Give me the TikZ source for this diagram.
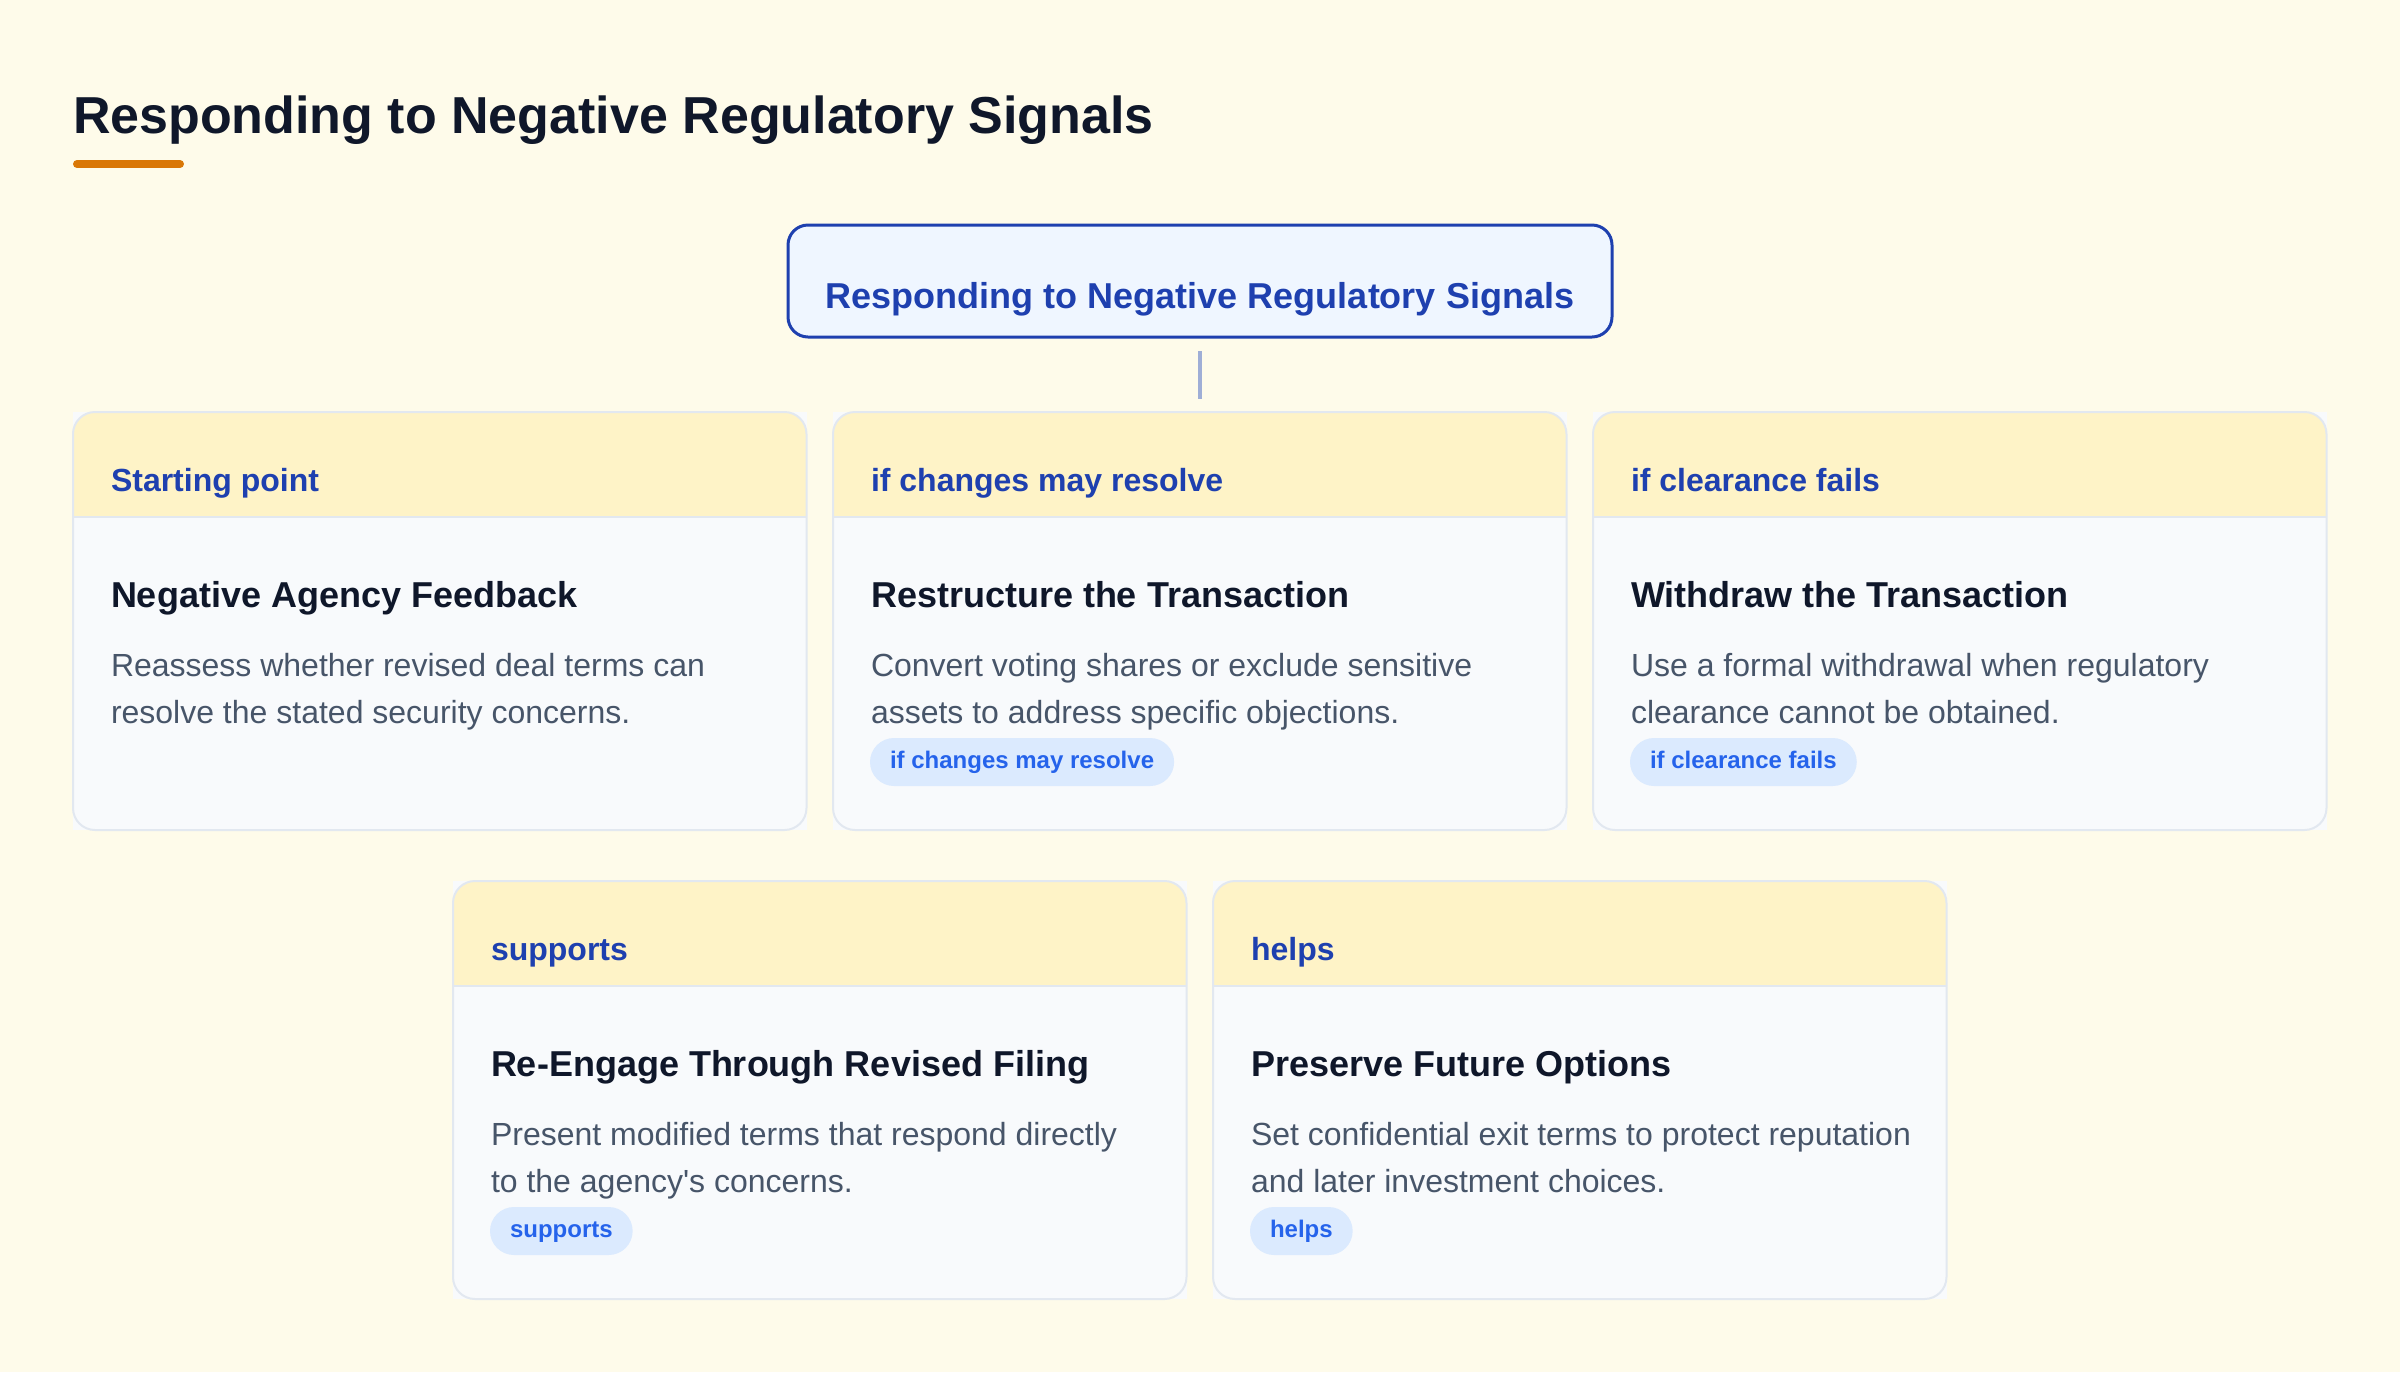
\documentclass[tikz,border=0pt]{standalone}
\usepackage{fontspec}
\setmainfont{Liberation Sans}
\usetikzlibrary{calc}
\definecolor{bgc}{HTML}{FEFBEA}
\definecolor{titlec}{HTML}{0F172A}
\definecolor{accentc}{HTML}{D97706}
\definecolor{rootfill}{HTML}{EFF6FF}
\definecolor{rootline}{HTML}{1E40AF}
\definecolor{connc}{HTML}{9FAED6}
\definecolor{headfill}{HTML}{FEF3C7}
\definecolor{bodyfill}{HTML}{F8FAFC}
\definecolor{borderc}{HTML}{E2E8F0}
\definecolor{headtext}{HTML}{1E40AF}
\definecolor{desctext}{HTML}{475569}
\definecolor{pillfill}{HTML}{DBEAFE}
\definecolor{pilltext}{HTML}{2563EB}
\tikzset{
  rootbox/.style={draw=rootline, fill=rootfill, line width=1.5pt, rounded corners=10pt,
    minimum width=412pt, minimum height=56pt, text=rootline,
    font=\fontsize{18}{22}\selectfont\bfseries, text height=27pt, text depth=0pt},
  conn/.style={draw=connc, line width=2pt},
  cardbox/.style={fill=bodyfill, minimum width=366.75pt, minimum height=209pt, anchor=north west},
  cardedge/.style={draw=borderc, line width=1pt, rounded corners=11pt},
  headtxt/.style={anchor=base west, text=headtext, font=\fontsize{16}{20}\selectfont\bfseries},
  cardtitle/.style={anchor=base west, text=titlec, font=\fontsize{18}{22}\selectfont\bfseries},
  desc/.style={anchor=base west, text=desctext, font=\fontsize{16}{20}\selectfont},
  pill/.style={anchor=north west, fill=pillfill, text=pilltext, rounded corners=12pt,
    inner xsep=10pt, inner ysep=0pt, minimum height=24pt, text height=9.5pt, text depth=3.5pt,
    font=\fontsize{12}{14}\selectfont\bfseries}
}
\newcommand{\mycard}[7]{%
  \node[cardbox] (#1) at (#2,#3) {};
  \begin{scope}
    \clip[rounded corners=11pt] (#1.north west) rectangle (#1.south east);
    \fill[headfill] (#1.north west) rectangle ($(#1.north east)+(0,105)$);
    \draw[borderc, line width=1pt] ($(#1.north west)+(0,105)$) -- ($(#1.north east)+(0,105)$);
  \end{scope}
  \draw[cardedge] (#1.north west) rectangle (#1.south east);
  \node[headtxt] (#1h) at (#2+38,#3+79) {#4};
  \node[cardtitle] (#1t) at (#2+38,#3+195) {#5};
  \node[desc] (#1d) at (#2+38,#3+264) {#6};
  \node[desc] (#1e) at (#2+38,#3+311) {#7};
}
\begin{document}
\begin{tikzpicture}[x=0.5pt,y=-0.5pt, every node/.style={inner sep=0pt, outer sep=0pt}]
\fill[bgc] (0,0) rectangle (2400,1372);
\useasboundingbox (0,0) rectangle (2400,1372);

\node[anchor=base west, text=titlec, font=\fontsize{26}{30}\selectfont\bfseries] (title) at (73,133) {Responding to Negative Regulatory Signals};
\draw[accentc, line width=4pt, line cap=round] (77,164) -- (180,164);

\node[rootbox] (root) at (1200,281) {Responding to Negative Regulatory Signals};
\coordinate (ctop) at (1200,351);
\coordinate (cbot) at (1200,399);
\draw[conn] (ctop) -- (cbot);

\mycard{c1}{73}{412}{Starting point}{Negative Agency Feedback}{Reassess whether revised deal terms can}{resolve the stated security concerns.}
\mycard{c2}{833}{412}{if changes may resolve}{Restructure the Transaction}{Convert voting shares or exclude sensitive}{assets to address specific objections.}
\mycard{c3}{1593}{412}{if clearance fails}{Withdraw the Transaction}{Use a formal withdrawal when regulatory}{clearance cannot be obtained.}
\mycard{c4}{453}{881}{supports}{Re-Engage Through Revised Filing}{Present modified terms that respond directly}{to the agency\textquotesingle s concerns.}
\mycard{c5}{1213}{881}{helps}{Preserve Future Options}{Set confidential exit terms to protect reputation}{and later investment choices.}

\node[pill] (p2) at (870,738) {if changes may resolve};
\node[pill] (p3) at (1630,738) {if clearance fails};
\node[pill] (p4) at (490,1207) {supports};
\node[pill] (p5) at (1250,1207) {helps};
\end{tikzpicture}
\end{document}
